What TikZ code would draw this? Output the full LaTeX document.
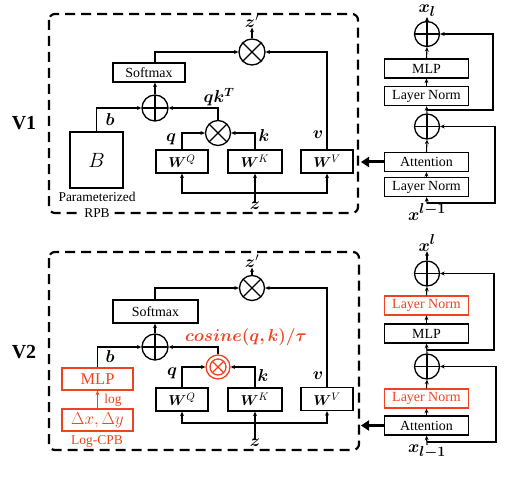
\documentclass[tikz,border=0pt]{standalone}
\usepackage{fontspec}
\setmainfont{Liberation Serif}
\usepackage{bm}
\usetikzlibrary{arrows.meta,calc}
\definecolor{myred}{RGB}{240,66,30}
\begin{document}
\begin{tikzpicture}[x=1bp,y=-1bp,
  lw/.style={line width=1.3bp},
  box/.style={draw, lw, minimum width=#1, minimum height=19bp, inner sep=0pt, font=\fontsize{14}{15}\selectfont},
  redbox/.style={box=#1, draw=myred, text=myred},
  txt/.style={inner sep=0pt, font=\fontsize{13.5}{15}\selectfont},
  mlab/.style={inner sep=0pt, font=\fontsize{17.5}{19}\selectfont},
  xlab/.style={inner sep=0pt, font=\fontsize{19}{21}\selectfont},
  vlab/.style={inner sep=0pt, font=\fontsize{20}{22}\selectfont\bfseries},
  oplus/.style={circle, draw, lw, minimum size=#1, inner sep=0pt,
    path picture={\draw[lw] (path picture bounding box.north) -- (path picture bounding box.south)
      (path picture bounding box.west) -- (path picture bounding box.east);}},
  otimes/.style={circle, draw, lw, minimum size=#1, inner sep=0pt,
    path picture={\draw[lw] (path picture bounding box.north west) -- (path picture bounding box.south east)
      (path picture bounding box.north east) -- (path picture bounding box.south west);}},
  arr/.style={line width=1.1bp, -{Stealth[length=4.5bp,width=4bp]}},
  dbox/.style={line width=2.2bp, dash pattern=on 10bp off 6bp, rounded corners=6bp},
  bigarr/.style={line width=3bp, -{Triangle[length=8bp,width=10bp]}},
  wbox/.style={box=#1, minimum height=23bp, font=\fontsize{15}{16}\selectfont}
]
\useasboundingbox (0,0) rectangle (508,498);

% ================= V1 =================
\draw[dbox] (49,14) rectangle (358,213);
\node[vlab] (v1) at (24,123) {V1};

\node[box=72bp] (sm1) at (149,72.5) {Softmax};
\node[draw, lw, minimum width=53bp, minimum height=56bp, inner sep=0pt, font=\fontsize{20}{22}\selectfont] (B1) at (96.5,160) {$B$};
\node[txt] (par1) at (97,197) {Parameterized};
\node[txt, fill=white, inner xsep=2bp] (rpb1) at (97,213) {RPB};
\node[oplus=26bp] (p1) at (155,108) {};
\node[otimes=25bp] (m1) at (218,133) {};
\node[otimes=26bp] (o1) at (252,52) {};
\node[wbox=52bp] (wq1) at (182,161.5) {$\bm{W}^{Q}$};
\node[wbox=54bp] (wk1) at (255,161.5) {$\bm{W}^{K}$};
\node[wbox=52bp] (wv1) at (327,161.5) {$\bm{W}^{V}$};

\node[mlab] (lb1) at (110,120) {$\bm{b}$};
\node[mlab] (lq1) at (171,139) {$\bm{q}$};
\node[mlab] (lk1) at (264,136) {$\bm{k}$};
\node[mlab] (lv1) at (318,135) {$\bm{v}$};
\node[mlab] (lqk1) at (219,97) {$\bm{qk^T}$};
\node[mlab] (zp1) at (252,21) {$\bm{z}'$};
\node[mlab] (z1) at (255,206) {$\bm{z}$};

\draw[arr] (p1.north) -- (p1 |- sm1.south);
\draw[arr] (p1 |- sm1.north) |- (o1.west);
\draw[arr] (B1.north) |- (p1.west);
\draw[arr] (m1.north) |- (p1.east);
\draw[arr] (wq1.north) |- (m1.west);
\draw[arr] (wk1.north) |- (m1.east);
\draw[arr] (wv1.north) |- (o1.east);
\draw[arr] (o1.north) -- (zp1.south);
\coordinate (zj1) at (255,193);
\draw[arr] (z1.north) -- (wk1.south);
\draw[arr] (zj1) -| (wq1.south);
\draw[arr] (zj1) -| (wv1.south);

% right column V1
\node[xlab] (xt1) at (427,11) {$\bm{x_l}$};
\node[oplus=25bp] (t1) at (427,34) {};
\node[box=84bp] (mlp1) at (426.5,68.5) {MLP};
\node[box=84bp] (ln1a) at (426.5,96) {Layer Norm};
\node[oplus=25bp] (t2) at (427,126.5) {};
\node[box=84bp] (att1) at (426.5,162) {Attention};
\node[box=84bp] (ln1b) at (426.5,187) {Layer Norm};
\node[xlab] (xb1) at (427,212) {$\bm{x^{l-1}}$};

\draw[arr] (xb1.north) -- (ln1b.south);
\draw[arr] (ln1b.north) -- (att1.south);
\draw[arr] (att1.north) -- (t2.south);
\draw[arr] (t2.north) -- (ln1a.south);
\draw[arr] (ln1a.north) -- (mlp1.south);
\draw[arr] (mlp1.north) -- (t1.south);
\draw[arr] (t1.north) -- (xt1.south);
\coordinate (ja1) at (427,110);
\coordinate (ra1) at (493,110);
\draw[arr] (ja1) -- (ra1) |- (t1.east);
\coordinate (jb1) at (427,203);
\coordinate (rb1) at (495,203);
\draw[arr] (jb1) -- (rb1) |- (t2.east);
\coordinate (e1) at (361,162);
\draw[bigarr] (att1.west) -- (e1);

% ================= V2 =================
\draw[dbox] (49,252) rectangle (359,450);
\node[vlab] (v2) at (24,352) {V2};

\node[box=85bp, minimum height=23bp] (sm2) at (155.5,311.5) {Softmax};
\node[oplus=26bp] (p2) at (155,347) {};
\node[redbox=71bp, minimum height=22bp, font=\fontsize{16.5}{18}\selectfont] (mlpr) at (97.5,379) {MLP};
\node[redbox=71bp, minimum height=22bp, font=\fontsize{16.5}{18}\selectfont] (dxy) at (97.5,420) {$\Delta x, \Delta y$};
\node[txt, text=myred] (log2) at (113,400) {log};
\node[txt, text=myred] (cpb2) at (97,441) {Log-CPB};
\node[circle, draw=myred, lw, minimum size=24bp, inner sep=0pt] (m2) at (218,367) {};
\node[otimes=16bp, draw=myred, path picture={\draw[lw, myred] (path picture bounding box.north west) -- (path picture bounding box.south east)
      (path picture bounding box.north east) -- (path picture bounding box.south west);}] (m2i) at (218,367) {};
\node[inner sep=0pt, text=myred, font=\fontsize{17}{19}\selectfont] (cos2) at (246,337) {$\bm{cosine(q,k)/\tau}$};
\node[otimes=25bp] (o2) at (252,288) {};
\node[wbox=52bp] (wq2) at (182,399.5) {$\bm{W}^{Q}$};
\node[wbox=54bp] (wk2) at (255,399.5) {$\bm{W}^{K}$};
\node[wbox=52bp] (wv2) at (327,399) {$\bm{W}^{V}$};

\node[mlab] (lb2) at (110,357) {$\bm{b}$};
\node[mlab] (lq2) at (172,373) {$\bm{q}$};
\node[mlab] (lk2) at (263,376) {$\bm{k}$};
\node[mlab] (lv2) at (318,376) {$\bm{v}$};
\node[mlab] (zp2) at (252,261) {$\bm{z}'$};
\node[mlab] (z2) at (255,443) {$\bm{z}$};

\draw[arr] (p2.north) -- (p2 |- sm2.south);
\draw[arr] (p2 |- sm2.north) |- (o2.west);
\draw[arr] (mlpr.north) |- (p2.west);
\draw[arr, myred] (dxy.north) -- (mlpr.south);
\draw[arr] (m2.north) |- (p2.east);
\draw[arr] (wq2.north) |- (m2.west);
\draw[arr] (wk2.north) |- (m2.east);
\draw[arr] (wv2.north) |- (o2.east);
\draw[arr] (o2.north) -- (zp2.south);
\coordinate (zj2) at (255,423);
\draw[arr] (z2.north) -- (wk2.south);
\draw[arr] (zj2) -| (wq2.south);
\draw[arr] (zj2) -| (wv2.south);

% right column V2
\node[xlab] (xt2) at (427,243) {$\bm{x^l}$};
\node[oplus=25bp] (t3) at (427,273.5) {};
\node[redbox=84bp] (lnr1) at (426.5,305.5) {Layer Norm};
\node[box=84bp] (mlp2) at (426.5,333.5) {MLP};
\node[oplus=25bp] (t4) at (427,366.5) {};
\node[redbox=84bp] (lnr2) at (426.5,398.5) {Layer Norm};
\node[box=84bp] (att2) at (426.5,425.5) {Attention};
\node[xlab] (xb2) at (427,452) {$\bm{x_{l-1}}$};

\draw[arr] (xb2.north) -- (att2.south);
\draw[arr] (att2.north) -- (lnr2.south);
\draw[arr] (lnr2.north) -- (t4.south);
\draw[arr] (t4.north) -- (mlp2.south);
\draw[arr] (mlp2.north) -- (lnr1.south);
\draw[arr] (lnr1.north) -- (t3.south);
\draw[arr] (t3.north) -- (xt2.south);
\coordinate (ja2) at (427,350);
\coordinate (ra2) at (494,350);
\draw[arr] (ja2) -- (ra2) |- (t3.east);
\coordinate (jb2) at (427,442);
\coordinate (rb2) at (496,442);
\draw[arr] (jb2) -- (rb2) |- (t4.east);
\coordinate (e2) at (361,425.5);
\draw[bigarr] (att2.west) -- (e2);
\end{tikzpicture}
\end{document}
